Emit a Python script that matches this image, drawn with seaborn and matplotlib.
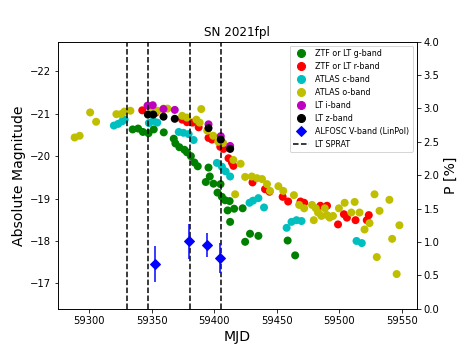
import matplotlib
matplotlib.use("Agg")
import matplotlib.pyplot as plt
from matplotlib.lines import Line2D
import seaborn as sns
import pandas as pd

# ---- data ----
g_mjd = [59334.8, 59339.2, 59343.0, 59347.5, 59351.7, 59359.7, 59367.7, 59369.0, 59372.2, 59376.2,
         59378.3, 59381.4, 59384.2, 59386.9, 59395.5, 59396.5, 59393.3, 59399.5, 59405.1, 59402.7,
         59406.2, 59408.8, 59412.4, 59410.8, 59416.0, 59422.8, 59412.8, 59428.7, 59435.4, 59424.8,
         59458.8, 59464.8]
g_mag = [-20.63, -20.65, -20.57, -20.54, -20.63, -20.56, -20.41, -20.30, -20.21, -20.15,
         -20.09, -20.00, -19.85, -19.76, -19.73, -19.52, -19.39, -19.35, -19.34, -19.14,
         -19.04, -18.96, -18.94, -18.72, -18.76, -18.77, -18.45, -18.17, -18.12, -17.98,
         -18.01, -17.66]

r_mjd = [59342.5, 59353.1, 59374.4, 59378.3, 59382.6, 59387.6, 59395.5, 59398.3, 59404.9, 59407.5,
         59411.5, 59414.2, 59415.4, 59430.7, 59440.7, 59444.3, 59454.8, 59459.2, 59469.1, 59472.0,
         59485.0, 59490.3, 59499.1, 59503.8, 59506.2, 59513.1, 59522.1, 59523.7]
r_mag = [-21.08, -21.02, -20.86, -20.80, -20.79, -20.68, -20.43, -20.39, -20.22, -20.17,
         -19.95, -19.85, -19.77, -19.38, -19.22, -19.16, -19.04, -18.93, -18.93, -18.90,
         -18.83, -18.83, -18.39, -18.63, -18.55, -18.49, -18.49, -18.61]

c_mjd = [59319.8, 59323.2, 59326.4, 59328.4, 59347.8, 59351.3, 59354.5, 59371.7, 59375.4, 59379.6,
         59383.6, 59402.2, 59406.2, 59409.2, 59412.8, 59428.3, 59431.1, 59435.4, 59439.9, 59458.0,
         59461.9, 59465.9, 59469.9, 59513.9, 59518.1]
c_mag = [-20.72, -20.76, -20.82, -20.86, -20.78, -20.83, -20.79, -20.57, -20.55, -20.52,
         -20.38, -19.84, -19.75, -19.64, -19.52, -18.90, -18.95, -19.01, -18.79, -18.31,
         -18.45, -18.49, -18.47, -18.00, -17.95]

o_mjd = [59288.4, 59292.4, 59300.8, 59305.6, 59321.8, 59325.5, 59328.2, 59333.0, 59350.7, 59354.7,
         59359.5, 59362.7, 59374.4, 59378.2, 59385.8, 59388.4, 59389.7, 59394.5, 59399.3, 59403.3,
         59407.2, 59415.4, 59421.2, 59424.8, 59430.1, 59434.3, 59438.3, 59442.3, 59416.8, 59444.7,
         59451.4, 59455.3, 59463.8, 59468.0, 59472.0, 59478.3, 59479.7, 59481.3, 59483.1, 59485.8,
         59488.5, 59490.3, 59492.4, 59495.1, 59499.8, 59504.4, 59509.7, 59512.4, 59516.3, 59520.3,
         59524.3, 59528.3, 59530.1, 59532.3, 59540.2, 59542.4, 59546.0, 59548.2]
o_mag = [-20.44, -20.48, -21.03, -20.81, -20.99, -20.99, -21.05, -21.07, -21.07, -21.07,
         -21.12, -21.12, -20.95, -20.91, -20.86, -20.79, -21.11, -20.60, -20.48, -20.34,
         -20.31, -19.91, -19.82, -19.51, -19.52, -19.48, -19.46, -19.34, -19.10, -19.18,
         -19.29, -19.18, -19.08, -18.85, -18.77, -18.85, -18.49, -18.77, -18.67, -18.59,
         -18.77, -18.61, -18.55, -18.59, -18.77, -18.90, -18.67, -18.92, -18.67, -18.27,
         -18.42, -19.10, -17.62, -18.71, -18.97, -18.05, -17.22, -18.37]

i_mjd = [59346.7, 59350.9, 59359.5, 59368.5, 59395.5, 59405.3, 59412.8]
i_mag = [-21.19, -21.20, -21.11, -21.09, -20.75, -20.47, -20.24]

z_mjd = [59347.0, 59351.3, 59359.5, 59368.5, 59395.5, 59405.3, 59412.8]
z_mag = [-20.98, -20.98, -20.93, -20.88, -20.66, -20.39, -20.17]

pol_mjd = [59352.3, 59379.6, 59394.5, 59404.3]
pol_p = [0.67, 1.01, 0.96, 0.76]
pol_err = [0.27, 0.26, 0.18, 0.22]

sprat_mjd = [59330.6, 59347.3, 59380.4, 59405.7]

band_labels = ["ZTF or LT g-band", "ZTF or LT r-band", "ATLAS c-band", "ATLAS o-band",
               "LT i-band", "LT z-band"]
band_colors = ["g", "r", "c", "y", "m", "k"]

# ---- plot ----
fig, ax = plt.subplots(figsize=(6.43, 4.82), dpi=72)

bands = [(g_mjd, g_mag), (r_mjd, r_mag), (c_mjd, c_mag), (o_mjd, o_mag),
         (i_mjd, i_mag), (z_mjd, z_mag)]
for (mjd, mag), lab, col in zip(bands, band_labels, band_colors):
    df = pd.DataFrame({"MJD": mjd, "mag": mag})
    sns.scatterplot(data=df, x="MJD", y="mag", ax=ax, color=col, s=64,
                    edgecolor="none", linewidth=0, legend=False)

for m in sprat_mjd:
    ax.axvline(m, color="k", ls="--", lw=1.5)

ax.set_xlim(59275, 59562)
ax.set_ylim(-16.4, -22.7)
ax.set_xticks([59300, 59350, 59400, 59450, 59500, 59550])
ax.set_yticks([-22, -21, -20, -19, -18, -17])
ax.set_xlabel("MJD", fontsize=14)
ax.set_ylabel("Absolute Magnitude", fontsize=14)
ax.set_title("SN 2021fpl", fontsize=12)

ax2 = ax.twinx()
ax2.errorbar(pol_mjd, pol_p, yerr=pol_err, fmt="D", color="b", ms=7,
             elinewidth=1.5, capsize=0)
ax2.set_ylim(0, 4)
ax2.set_yticks([0.0, 0.5, 1.0, 1.5, 2.0, 2.5, 3.0, 3.5, 4.0])
ax2.set_ylabel("P [%]", fontsize=14)

handles = [Line2D([], [], marker="o", color=c, ls="none", ms=8) for c in band_colors]
handles.append(Line2D([], [], marker="D", color="b", ls="none", ms=7))
handles.append(Line2D([], [], color="k", ls="--", lw=1.5))
labels = band_labels + ["ALFOSC V-band (LinPol)", "LT SPRAT"]
ax2.legend(handles, labels, loc="upper right", fontsize=8)

fig.savefig("out.png", dpi=72)
